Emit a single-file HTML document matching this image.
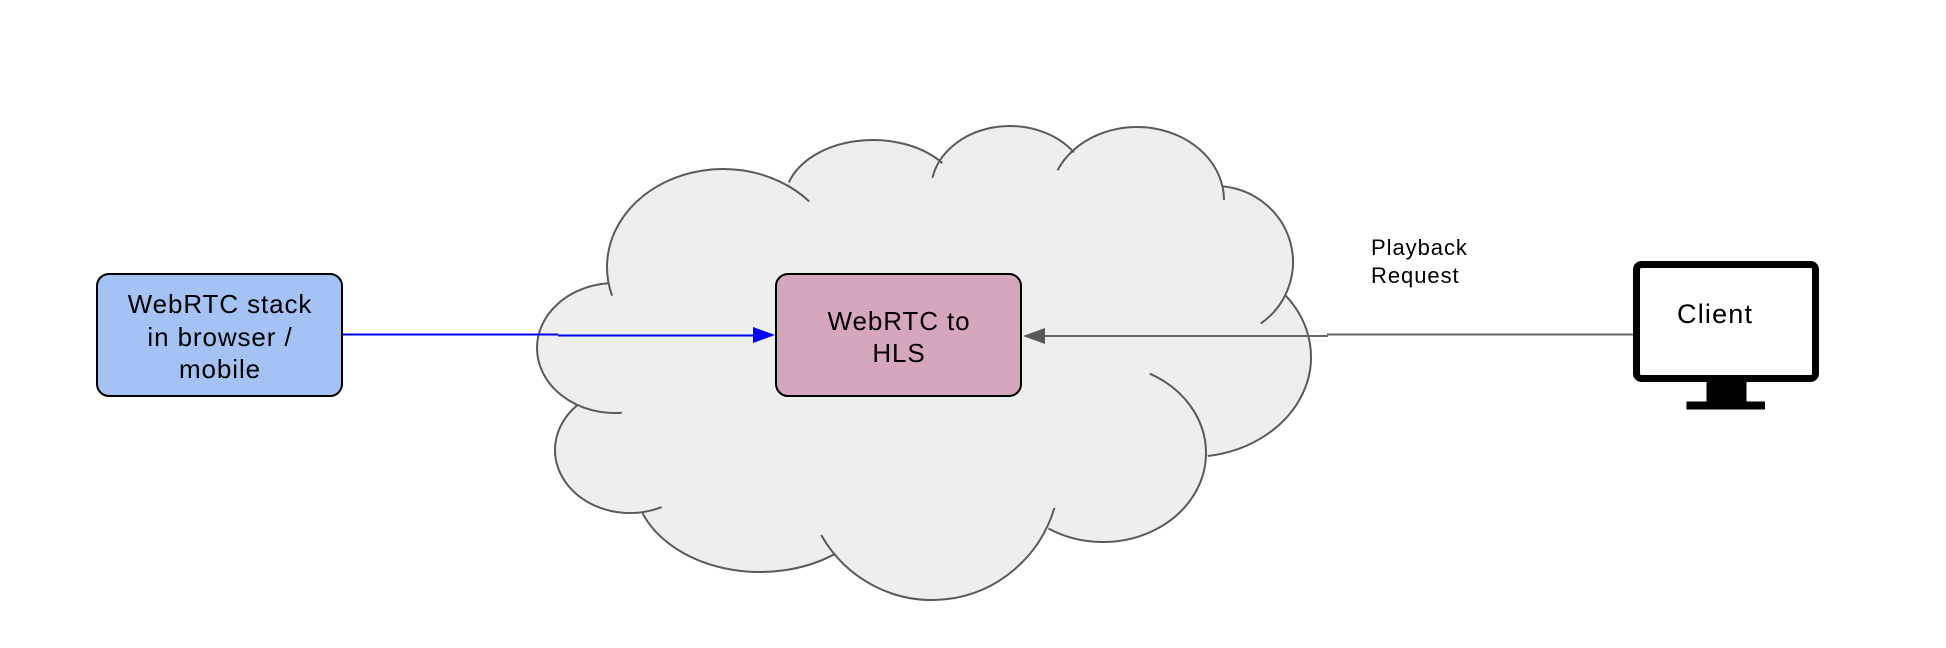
<!DOCTYPE html>
<html>
<head>
<meta charset="utf-8">
<style>
  html, body { margin: 0; padding: 0; background: #ffffff; }
  body { width: 1946px; height: 648px; overflow: hidden; }
  svg { display: block; }
  text { font-family: "Liberation Sans", Arial, sans-serif; fill: #000; }
</style>
</head>
<body>
<svg width="1946" height="648" viewBox="0 0 1946 648" xmlns="http://www.w3.org/2000/svg">
  <rect x="0" y="0" width="1946" height="648" fill="#ffffff"/>

  <!-- Cloud fill -->
  <g fill="#eeeeee" stroke="none">
    <polygon points="608,284 789,182 942,163 1072,153 1223,187 1285,295 1207,456 1048,528 833,555 643,513 577,405"/>
    <ellipse cx="723" cy="267" rx="116" ry="98"/>
    <ellipse cx="873" cy="200" rx="88" ry="60"/>
    <ellipse cx="1010" cy="190" rx="79" ry="64"/>
    <ellipse cx="1137" cy="200" rx="87" ry="73"/>
    <ellipse cx="1215" cy="262" rx="78" ry="76"/>
    <ellipse cx="1191" cy="357" rx="120" ry="100"/>
    <ellipse cx="1103" cy="453" rx="103" ry="89"/>
    <ellipse cx="932" cy="470" rx="128" ry="130"/>
    <ellipse cx="760" cy="480" rx="126" ry="92"/>
    <ellipse cx="630" cy="450" rx="75" ry="63"/>
    <ellipse cx="615" cy="348" rx="78" ry="65"/>
  </g>

  <!-- Cloud outline arcs (endpoints computed on the ellipses) -->
  <g fill="none" stroke="#5a5a5a" stroke-width="2">
    <path d="M 612.07 295.65 A 116 98 0 0 1 809.20 201.43"/>
    <path d="M 788.85 182.46 A 88 60 0 0 1 942.35 163.06"/>
    <path d="M 932.45 177.79 A 79 64 0 0 1 1073.91 152.38"/>
    <path d="M 1057.52 170.31 A 87 73 0 0 1 1224 200"/>
    <path d="M 1223.15 186.42 A 78 76 0 0 1 1260.85 323.49"/>
    <path d="M 1285.56 295.43 A 120 100 0 0 1 1207.70 456.03"/>
    <path d="M 1149.76 373.70 A 103 89 0 0 1 1206 453 A 103 89 0 0 1 1048.42 528.48"/>
    <path d="M 1054.41 508.01 A 128 130 0 0 1 821.15 535"/>
    <path d="M 834.06 554.43 A 126 92 0 0 1 642.37 512.97"/>
    <path d="M 661.70 507.10 A 75 63 0 0 1 576.97 405.45"/>
    <path d="M 621.80 412.75 A 78 65 0 0 1 537 348 A 78 65 0 0 1 608.20 283.25"/>
  </g>

  <!-- Left box -->
  <rect x="97" y="274" width="245" height="122" rx="12" ry="12" fill="#a4c2f4" stroke="#000" stroke-width="2"/>
  <text x="220" y="313" font-size="26" letter-spacing="0.9" text-anchor="middle">WebRTC stack</text>
  <text x="220" y="346" font-size="26" letter-spacing="0.9" text-anchor="middle">in browser /</text>
  <text x="220" y="378" font-size="26" letter-spacing="0.9" text-anchor="middle">mobile</text>

  <!-- Middle box -->
  <rect x="776" y="274" width="245" height="122" rx="12" ry="12" fill="#d5a6bd" stroke="#000" stroke-width="2"/>
  <text x="899" y="330" font-size="26" letter-spacing="0.9" text-anchor="middle">WebRTC to</text>
  <text x="899" y="362" font-size="26" letter-spacing="0.9" text-anchor="middle">HLS</text>

  <!-- Blue connector -->
  <line x1="343" y1="334.5" x2="558" y2="334.5" stroke="#0000ff" stroke-width="2"/>
  <line x1="558" y1="335.5" x2="756" y2="335.5" stroke="#0000ff" stroke-width="2"/>
  <polygon points="775,335 753,327 753,343" fill="#0000ff"/>

  <!-- Gray connector -->
  <line x1="1042" y1="336" x2="1328" y2="336" stroke="#666666" stroke-width="2"/>
  <line x1="1327" y1="334.5" x2="1634" y2="334.5" stroke="#666666" stroke-width="2"/>
  <polygon points="1023,336 1045,328 1045,344" fill="#595959"/>

  <!-- Playback Request label -->
  <text x="1371" y="255" font-size="22" letter-spacing="0.95">Playback</text>
  <text x="1371" y="283" font-size="22" letter-spacing="0.95">Request</text>

  <!-- Monitor -->
  <rect x="1636.5" y="264.5" width="179" height="114" rx="5" ry="5" fill="#ffffff" stroke="#000" stroke-width="7"/>
  <rect x="1706.5" y="381" width="40" height="21" fill="#000"/>
  <rect x="1686.5" y="401.5" width="78.5" height="8" fill="#000"/>
  <text x="1677" y="323" font-size="27" letter-spacing="1.2">Client</text>
</svg>
</body>
</html>
